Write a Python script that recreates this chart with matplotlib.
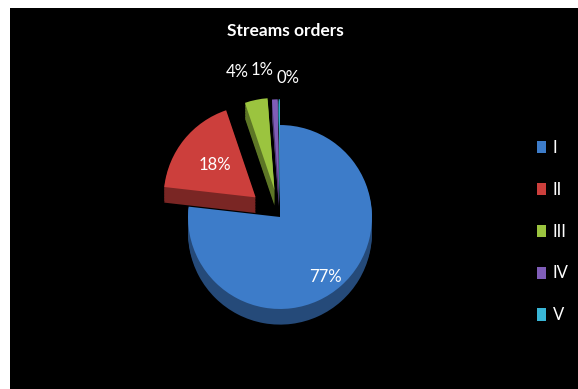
import matplotlib.pyplot as plt
from matplotlib.patches import Rectangle
import matplotlib.colors as mcolors

# 数据
orders = ['I', 'II', 'III', 'IV', 'V']
shares = [76.8, 18.0, 4.0, 1.0, 0.2]
colors = ['#3d7cc9', '#cc3f3c', '#9bc43f', '#7f5db8', '#39b6d6']
explode = [0, 0.34, 0.3, 0.28, 0.28]

plt.rcParams['font.family'] = ['Lato', 'DejaVu Sans']

fig = plt.figure(figsize=(5.78, 3.89), dpi=100)
fig.patch.set_facecolor('white')
# 黑色背景区域（左、上留白边）
fig.patches.append(Rectangle((10 / 578, 0), 1, (389 - 8) / 389, transform=fig.transFigure,
                             facecolor='black', edgecolor='none', zorder=-10))

# 饼图中心约在 (280, 217) 像素，半径约 92 像素
ax = fig.add_axes([100 / 578, (389 - 217 - 180) / 389, 360 / 578, 360 / 389])
ax.set_facecolor('none')

# 先画暗色阴影层，模拟立体厚度
dark = [tuple(c * 0.6 for c in mcolors.to_rgb(col)) for col in colors]
for k in range(10, 0, -1):
    ax.pie(shares, colors=dark, explode=explode, startangle=90, counterclock=False,
           center=(0, -0.017 * k), wedgeprops=dict(linewidth=0))
wedges, texts, autotexts = ax.pie(shares, colors=colors, explode=explode, startangle=90,
                                  counterclock=False, autopct='%1.0f%%', pctdistance=0.6,
                                  wedgeprops=dict(linewidth=0),
                                  textprops=dict(color='white', fontsize=12))

# 调整百分比标签位置
label_pos = [(0.49, -0.65), (-0.71, 0.57), (-0.46, 1.58), (-0.19, 1.60), (0.09, 1.51)]
for t, p in zip(autotexts, label_pos):
    t.set_position(p)
    t.set_ha('center')
    t.set_va('center')

ax.set_xlim(-1.957, 1.957)
ax.set_ylim(-1.957, 1.957)

fig.text(285 / 578, 1 - 31 / 389, 'Streams orders', color='white', fontsize=12.5,
         fontweight='bold', ha='center', va='center')

leg = fig.legend(wedges, orders, loc='upper left', bbox_to_anchor=(522 / 578, 1 - 125 / 389),
                 frameon=False, labelcolor='white', fontsize=12, labelspacing=1.55,
                 handlelength=0.55, handleheight=0.75, handletextpad=0.4)

plt.savefig('out.png', dpi=100, facecolor=fig.get_facecolor())
